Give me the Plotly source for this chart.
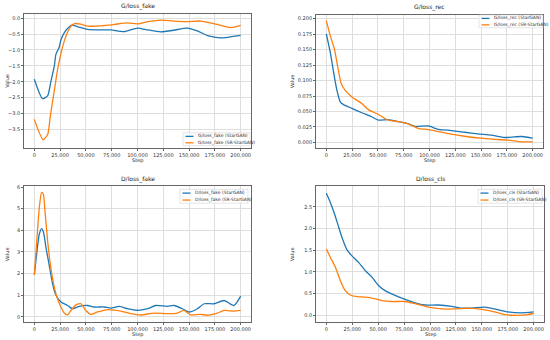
import plotly.graph_objects as go

# ---------------- data ----------------
# G/loss_fake
gf_star_x = [0, 8000, 13000, 16000, 19400, 21000, 24000, 26000, 29000, 32000, 36500, 42000, 51600, 64500, 74000, 87000, 100000, 110000, 122500, 135000, 148000, 158000, 168000, 180000, 200000]
gf_star_y = [-1.92, -2.53, -2.43, -2.0, -1.5, -1.13, -0.92, -0.66, -0.46, -0.33, -0.22, -0.27, -0.35, -0.37, -0.37, -0.42, -0.31, -0.37, -0.43, -0.38, -0.31, -0.40, -0.55, -0.62, -0.54]
gf_sr_x = [0, 8500, 13000, 15500, 19400, 22600, 26000, 29000, 32000, 35500, 39000, 45000, 51600, 64500, 77000, 90000, 100000, 110000, 122500, 135000, 148000, 161000, 174000, 190000, 200000]
gf_sr_y = [-3.18, -3.82, -3.65, -3.07, -2.27, -1.6, -1.08, -0.72, -0.46, -0.25, -0.17, -0.19, -0.25, -0.24, -0.2, -0.15, -0.18, -0.11, -0.06, -0.09, -0.11, -0.09, -0.17, -0.3, -0.23]

# G/loss_rec
gr_star_x = [0, 3900, 7100, 10300, 13500, 16700, 24800, 34400, 44000, 50500, 60000, 70000, 79400, 86000, 98700, 108400, 118000, 134000, 147000, 160000, 172700, 182300, 190000, 200000]
gr_star_y = [0.1755, 0.145, 0.113, 0.084, 0.0655, 0.061, 0.055, 0.048, 0.0415, 0.036, 0.0367, 0.0335, 0.030, 0.026, 0.0266, 0.0213, 0.020, 0.0165, 0.0138, 0.0117, 0.008, 0.009, 0.0096, 0.007]
gr_sr_x = [0, 3900, 8000, 10300, 14500, 18300, 24800, 34400, 40800, 50500, 60000, 70000, 79400, 89000, 98700, 108400, 121000, 134000, 150000, 163000, 176000, 189000, 200000]
gr_sr_y = [0.1968, 0.172, 0.150, 0.129, 0.0947, 0.084, 0.0734, 0.063, 0.053, 0.0452, 0.036, 0.0335, 0.030, 0.0229, 0.0207, 0.0176, 0.0133, 0.010, 0.0069, 0.0048, 0.0037, 0.001, 0.001]

# D/loss_fake
df_star_x = [0, 2600, 4800, 7100, 9000, 11300, 14500, 17700, 21000, 25800, 32300, 37100, 43500, 51600, 58000, 67700, 74200, 82300, 90300, 100000, 109700, 117700, 129000, 135500, 143500, 150000, 158000, 164500, 174200, 183900, 193500, 200000]
df_star_y = [1.94, 3.05, 3.82, 4.08, 3.89, 3.2, 2.37, 1.53, 1.0, 0.69, 0.53, 0.38, 0.49, 0.53, 0.46, 0.46, 0.41, 0.49, 0.38, 0.3, 0.38, 0.53, 0.49, 0.53, 0.38, 0.23, 0.38, 0.61, 0.61, 0.76, 0.53, 0.96]
df_sr_x = [0, 2600, 4800, 7100, 8700, 10300, 12900, 15500, 18700, 21900, 25800, 29000, 32300, 35500, 40300, 45200, 50000, 54800, 61300, 71000, 83900, 93500, 103000, 116000, 129000, 138700, 145000, 151600, 161000, 167700, 177400, 183900, 193500, 200000]
df_sr_y = [1.94, 3.66, 5.04, 5.75, 5.68, 4.89, 3.51, 2.44, 1.53, 0.92, 0.46, 0.18, 0.1, 0.3, 0.56, 0.61, 0.3, 0.12, 0.23, 0.34, 0.27, 0.15, 0.09, 0.18, 0.15, 0.18, 0.3, 0.1, 0.12, 0.08, 0.18, 0.3, 0.27, 0.3]

# D/loss_cls
dc_star_x = [0, 3800, 8000, 11900, 15000, 19900, 24700, 31100, 37500, 44000, 50300, 56700, 66300, 76000, 85600, 95200, 108000, 120800, 130400, 140000, 152900, 162500, 175300, 188000, 200000]
dc_star_y = [2.81, 2.6, 2.33, 2.03, 1.8, 1.51, 1.37, 1.22, 1.03, 0.88, 0.69, 0.57, 0.46, 0.37, 0.29, 0.24, 0.24, 0.21, 0.17, 0.17, 0.19, 0.15, 0.08, 0.06, 0.08]
dc_sr_x = [0, 3800, 8700, 13500, 18300, 23100, 27900, 37500, 44000, 53500, 63100, 76000, 85600, 98400, 111200, 124000, 137000, 150000, 159300, 172000, 185000, 194500, 200000]
dc_sr_y = [1.53, 1.34, 1.11, 0.80, 0.57, 0.47, 0.44, 0.42, 0.40, 0.34, 0.32, 0.32, 0.27, 0.19, 0.15, 0.15, 0.17, 0.14, 0.1, 0.02, 0.0, 0.02, 0.05]

titles = ["G/loss_fake", "G/loss_rec", "D/loss_fake", "D/loss_cls"]
series_names = ["StarGAN", "SR-StarGAN"]
x_ticks = [0, 25000, 50000, 75000, 100000, 125000, 150000, 175000, 200000]
y_ticks = [
    [0.0, -0.5, -1.0, -1.5, -2.0, -2.5, -3.0, -3.5],
    [0.0, 0.025, 0.05, 0.075, 0.1, 0.125, 0.15, 0.175, 0.2],
    [0, 1, 2, 3, 4, 5, 6],
    [0.0, 0.5, 1.0, 1.5, 2.0, 2.5],
]
y_tick_text = [
    ["0.0", "−0.5", "−1.0", "−1.5", "−2.0", "−2.5", "−3.0", "−3.5"],
    ["0.000", "0.025", "0.050", "0.075", "0.100", "0.125", "0.150", "0.175", "0.200"],
    ["0", "1", "2", "3", "4", "5", "6"],
    ["0.0", "0.5", "1.0", "1.5", "2.0", "2.5"],
]
y_ranges = [[-4.07, 0.134], [-0.0085, 0.206], [-0.24, 6.03], [-0.155, 2.97]]

series = [
    (gf_star_x, gf_star_y, gf_sr_x, gf_sr_y),
    (gr_star_x, gr_star_y, gr_sr_x, gr_sr_y),
    (df_star_x, df_star_y, df_sr_x, df_sr_y),
    (dc_star_x, dc_star_y, dc_sr_x, dc_sr_y),
]

# ---------------- layout (pixels) ----------------
W, H = 550, 340
boxes = [  # left, right, top, bottom
    (24, 251, 11, 146),
    (316, 543, 12, 146),
    (24, 251, 185, 322),
    (316, 544, 185, 322),
]
legend_boxes = [  # left, right, top, bottom
    (183, 250, 131, 144),
    (479, 543, 12, 25),
    (180, 248, 188, 202),
    (478, 542, 188, 202),
]

BLUE = "#1f77b4"
ORANGE = "#ff7f0e"
COLORS = [BLUE, ORANGE]
FONT = "DejaVu Sans"


def px(x):
    return x / W


def py(y):
    return (H - y) / H


fig = go.Figure()
layout = dict(
    width=W, height=H,
    margin=dict(l=0, r=0, t=0, b=0),
    paper_bgcolor="white", plot_bgcolor="white",
    font=dict(family=FONT, size=5, color="#333"),
    showlegend=False,
)
annotations = []
shapes = []

for i in range(4):
    sx, sy, rx, ry = series[i]
    suffix = "" if i == 0 else str(i + 1)
    xa = "x" + suffix
    ya = "y" + suffix
    name = titles[i]
    for k, (xs, ys) in enumerate([(sx, sy), (rx, ry)]):
        fig.add_trace(go.Scatter(x=xs, y=ys, mode="lines",
                                 name=f"{name} ({series_names[k]})",
                                 line=dict(color=COLORS[k], width=1.3, shape="spline", smoothing=0.6),
                                 xaxis=xa, yaxis=ya))
    l, r, t, b = boxes[i]
    axis_common = dict(showline=True, mirror=True, linecolor="#666", linewidth=0.8,
                       showgrid=True, gridcolor="#dedede", gridwidth=0.8,
                       ticks="outside", ticklen=2, tickwidth=0.6, tickcolor="#666",
                       zeroline=False, tickfont=dict(size=5, color="#333", family=FONT))
    layout["xaxis" + suffix] = dict(domain=[px(l), px(r)], range=[-10000, 210000], tickvals=x_ticks,
                                    tickformat=",d", anchor=ya, **axis_common)
    layout["yaxis" + suffix] = dict(domain=[py(b), py(t)], range=y_ranges[i], tickvals=y_ticks[i],
                                    ticktext=y_tick_text[i], anchor=xa, **axis_common)
    cx = px((l + r) / 2)
    annotations.append(dict(text=name, x=cx, y=py(t - 1.5), xref="paper", yref="paper",
                            xanchor="center", yanchor="bottom", showarrow=False,
                            font=dict(size=6, family=FONT, color="#222")))
    annotations.append(dict(text="Step", x=cx, y=py(b + 7), xref="paper", yref="paper",
                            xanchor="center", yanchor="top", showarrow=False,
                            font=dict(size=5, family=FONT, color="#222")))
    annotations.append(dict(text="Value", x=px(l - (17 if i % 2 == 0 else 24)), y=py((t + b) / 2),
                            xref="paper", yref="paper", xanchor="center", yanchor="middle",
                            textangle=-90, showarrow=False,
                            font=dict(size=5, family=FONT, color="#222")))
    # custom compact legend (matplotlib style)
    ll, lr, lt, lb = legend_boxes[i]
    shapes.append(dict(type="rect", xref="paper", yref="paper",
                       x0=px(ll), x1=px(lr), y0=py(lb), y1=py(lt),
                       line=dict(color="#d4d4d4", width=0.6), fillcolor="rgba(255,255,255,0.85)",
                       layer="above"))
    step = (lb - lt) / 2
    for k in range(2):
        yy = lt + step * (k + 0.5) + 0.3
        shapes.append(dict(type="line", xref="paper", yref="paper",
                           x0=px(ll + 2.5), x1=px(ll + 10.5), y0=py(yy), y1=py(yy),
                           line=dict(color=COLORS[k], width=1.3), layer="above"))
        annotations.append(dict(text=f"{name} ({series_names[k]})", x=px(ll + 12.5), y=py(yy),
                                xref="paper", yref="paper", xanchor="left", yanchor="middle",
                                showarrow=False,
                                font=dict(size=4.5, family=FONT, color="#333")))

layout["annotations"] = annotations
layout["shapes"] = shapes
fig.update_layout(**layout)
fig.write_html("out.html", config={"displayModeBar": False},
               post_script="document.body.style.margin='0';document.body.style.padding='0';")
